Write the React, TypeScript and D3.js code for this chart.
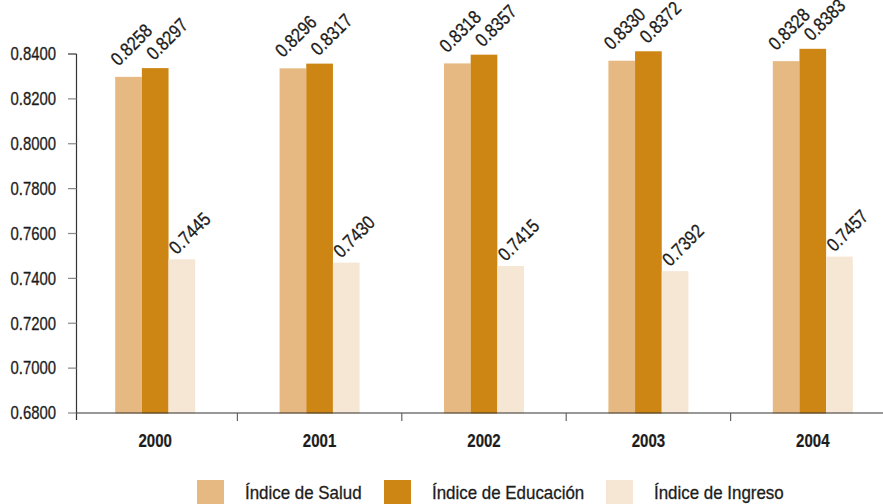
import React from "react";
import * as d3 from "d3";

const years = ["2000", "2001", "2002", "2003", "2004"];
const seriesNames = ["Índice de Salud", "Índice de Educación", "Índice de Ingreso"];
const salud = [0.8258, 0.8296, 0.8318, 0.833, 0.8328];
const educacion = [0.8297, 0.8317, 0.8357, 0.8372, 0.8383];
const ingreso = [0.7445, 0.743, 0.7415, 0.7392, 0.7457];
const yTicks = [0.68, 0.7, 0.72, 0.74, 0.76, 0.78, 0.8, 0.82, 0.84];

const colors = ["#E6B982", "#CD8514", "#F6E6D4"];
const labelDx = [-10, -1, -5];
const labelDy = [-10, -7, -4];
const legendX = [197, 384, 606];
const FONT = "'Liberation Sans', Arial, sans-serif";
const INK = "#1c1c1c";

type TProps = {
  x: number;
  y: number;
  sx: number;
  size: number;
  rot?: number;
  anchor?: "start" | "middle" | "end";
  bold?: boolean;
  dy?: string;
  children: React.ReactNode;
};

function T({ x, y, sx, size, rot = 0, anchor = "start", bold = false, dy, children }: TProps) {
  return (
    <g transform={`translate(${x},${y}) rotate(${rot}) scale(${sx},1)`}>
      <text
        x={0}
        y={0}
        dy={dy}
        textAnchor={anchor}
        fontSize={size}
        fontWeight={bold ? "bold" : "normal"}
        fill={INK}
        stroke={INK}
        strokeWidth={bold ? 0.2 : 0.3}
      >
        {children}
      </text>
    </g>
  );
}

export default function App() {
  const W = 883, H = 504;
  const axisX = 76.5;
  const y = d3.scaleLinear().domain([0.68, 0.84]).range([413, 54]);
  const barShift = 9;
  const x0 = d3.scaleBand<string>().domain(years).range([73, 73 + 5 * 164.4]).padding(0);
  const bw = x0.bandwidth();
  const x1 = d3.scaleBand<number>().domain([0, 1, 2]).range([bw / 2 - 40, bw / 2 + 40]).padding(0);
  const series = [salud, educacion, ingreso];
  const fmt = d3.format(".4f");
  const baseY = y(0.68);

  return (
    <svg width={W} height={H} style={{ position: "absolute", left: 0, top: 0, background: "#fff" }} fontFamily={FONT}>
      {/* bars */}
      {series.map((vals, si) =>
        vals.map((v, i) => {
          const bx = (x0(years[i]) as number) + (x1(si) as number);
          const top = y(v) - barShift;
          return (
            <rect key={`b${si}-${i}`} x={bx} y={top} width={x1.bandwidth()} height={baseY - top + 0.5} fill={colors[si]} />
          );
        })
      )}
      {/* value labels */}
      {series.map((vals, si) =>
        vals.map((v, i) => {
          const cx = (x0(years[i]) as number) + (x1(si) as number) + x1.bandwidth() / 2;
          const top = y(v) - barShift;
          return (
            <T key={`l${si}-${i}`} x={cx + labelDx[si]} y={top + labelDy[si]} rot={-45} sx={0.85} size={19}>
              {fmt(v)}
            </T>
          );
        })
      )}
      {/* y axis */}
      <line x1={axisX} x2={axisX} y1={y(0.84)} y2={420} stroke="#333" strokeWidth={1.2} />
      {yTicks.map((t) => (
        <g key={`t${t}`}>
          <line x1={68} x2={axisX} y1={y(t)} y2={y(t)} stroke={t === 0.84 ? "#333" : "#888"} strokeWidth={1.2} />
          <T x={56} y={y(t)} dy="0.36em" anchor="end" sx={0.85} size={17.5}>
            {fmt(t)}
          </T>
        </g>
      ))}
      {/* x axis */}
      <line x1={axisX} x2={W} y1={baseY} y2={baseY} stroke="#333" strokeWidth={1.2} />
      {years.slice(1).map((yr) => (
        <line key={`xt${yr}`} x1={x0(yr) as number} x2={x0(yr) as number} y1={baseY} y2={baseY + 8} stroke="#666" strokeWidth={1.2} />
      ))}
      {years.map((yr) => (
        <T key={`xl${yr}`} x={(x0(yr) as number) + bw / 2} y={447} anchor="middle" sx={0.86} size={17.5} bold>
          {yr}
        </T>
      ))}
      {/* legend */}
      {seriesNames.map((name, si) => (
        <g key={`lg${si}`}>
          <rect x={legendX[si]} y={480} width={27} height={24} fill={colors[si]} />
          <T x={legendX[si] + 48} y={499} sx={0.94} size={18}>
            {name}
          </T>
        </g>
      ))}
    </svg>
  );
}
